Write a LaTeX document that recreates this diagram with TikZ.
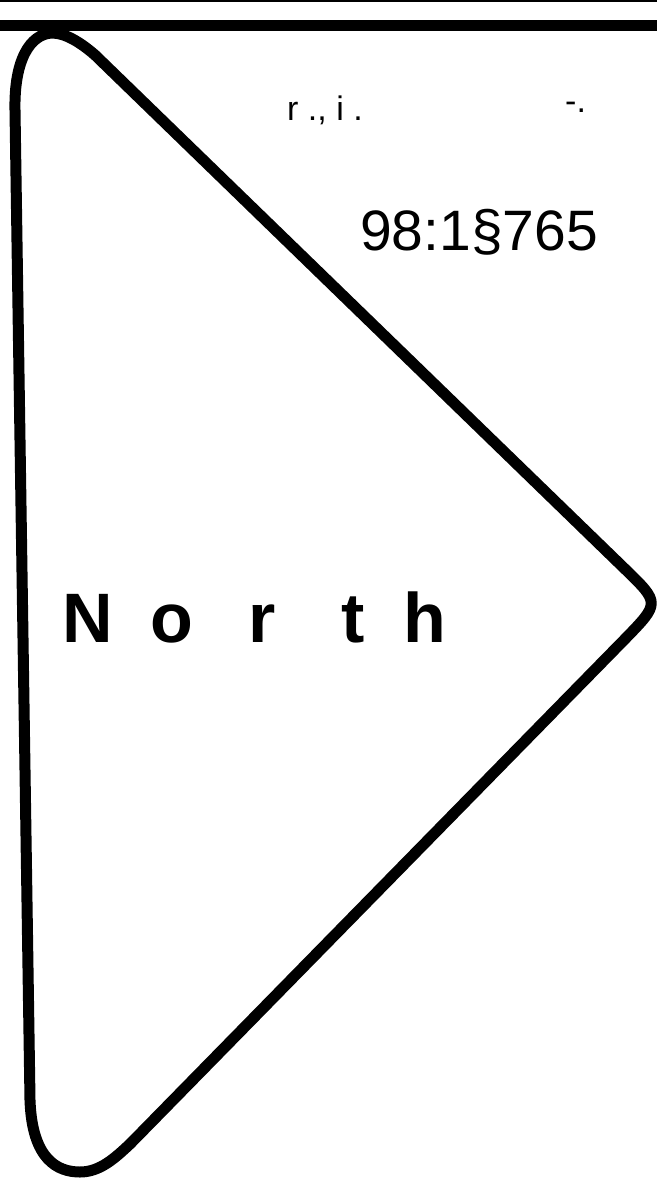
\documentclass[tikz,border=0pt]{standalone}
\usepackage{fontspec}
\setmainfont{Liberation Sans}
\begin{document}
\begin{tikzpicture}[x=1pt,y=-1pt,
  outline/.style={line width=11pt, line join=round, line cap=round},
  rule/.style={line width=11pt},
  thinrule/.style={line width=2pt},
  bigletter/.style={inner sep=0pt, anchor=base, font=\fontsize{70}{70}\selectfont\bfseries},
  numtext/.style={inner sep=0pt, anchor=base west, font=\fontsize{57}{57}\selectfont},
  smalltext/.style={inner sep=0pt, anchor=base west, font=\fontsize{34}{34}\selectfont}]
\useasboundingbox (0,0) rectangle (657,1192);
\fill[white] (0,0) rectangle (657,1192);
% top rules
\draw[thinrule] (0,1) -- (657,1);
\draw[rule] (0,25.5) -- (657,25.5);
% triangular outline
\draw[outline] (15,110) .. controls (14,60) and (30,34) .. (52,33)
  .. controls (65,33) and (80,42) .. (95,55)
  -- (625,569) .. controls (660,603) and (660,603) .. (625,639)
  -- (130,1144) .. controls (115,1158) and (100,1172) .. (80,1172)
  .. controls (58,1172) and (32,1160) .. (30,1100) -- cycle;
% North
\node[bigletter] (n1) at (88,642) {N};
\node[bigletter] (n2) at (172,642) {o};
\node[bigletter] (n3) at (262,642) {r};
\node[bigletter] (n4) at (353,642) {t};
\node[bigletter] (n5) at (425,642) {h};
% number
\node[numtext] (num) at (360,250) {98:1§765};
% faint marks
\node[smalltext] (faintA) at (287,120) {r ., i .};
\node[smalltext] (faintB) at (565,112) {-.};
\end{tikzpicture}
\end{document}
